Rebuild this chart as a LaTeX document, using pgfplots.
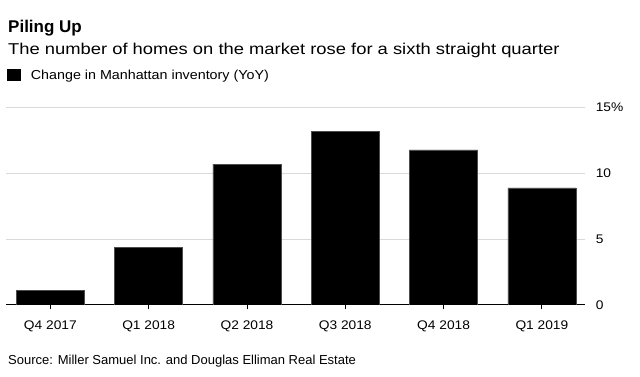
\documentclass[border=0pt]{standalone}
\usepackage{fontspec}
\setmainfont{Liberation Sans}
\newfontfamily\subfont{Liberation Sans}[FakeStretch=1.17]
\newfontfamily\tickfont{Liberation Sans}[FakeStretch=1.1]
\usepackage{pgfplots}
\pgfplotsset{compat=1.18}
\definecolor{gridgray}{HTML}{D9D9D9}
\begin{document}
\begin{tikzpicture}[x=1pt,y=1pt]
\path[use as bounding box] (0,0) rectangle (640,376);
\node[anchor=base west, inner sep=0pt, font=\bfseries\fontsize{17}{17}\selectfont] at (8,343.5) {Piling Up};
\node[anchor=base west, inner sep=0pt, font=\subfont\fontsize{15.7}{16}\selectfont] at (8,322) {The number of homes on the market rose for a sixth straight quarter};
\node[anchor=base west, inner sep=0pt, font=\fontsize{13}{13}\selectfont] at (8,12) {Source: Miller Samuel Inc. and Douglas Elliman Real Estate};
\begin{axis}[
  at={(51.24,54)}, anchor=origin,
  width=579pt, height=197.3pt, scale only axis,
  xmin=-0.45, xmax=5.44, ymin=0, ymax=15,
  axis line style={draw=none},
  xtick={0,1,2,3,4,5},
  xtick pos=bottom,
  xticklabels={Q4 2017,Q1 2018,Q2 2018,Q3 2018,Q4 2018,Q1 2019},
  xtick style={draw=black, line width=0.8pt},
  tick align=outside, major tick length=4.5pt,
  xticklabel style={font=\tickfont\fontsize{12.5}{13}\selectfont, inner sep=0pt, anchor=north, yshift=-11pt},
  ytick={5,10,15},
  yticklabels={5,10,15\%},
  extra y ticks={0},
  extra y tick labels={0},
  extra y tick style={grid style={draw=black, line width=1pt}},
  ytick style={draw=none},
  yticklabel pos=right,
  yticklabel style={font=\tickfont\fontsize{12.5}{13}\selectfont, anchor=west, inner sep=0pt, xshift=6pt},
  ymajorgrids,
  grid style={draw=gridgray, line width=1pt},
  legend style={at={(axis description cs:0.002,1.165)}, anchor=west, draw=none, fill=none, inner sep=0pt,
    column sep=8pt, font=\tickfont\fontsize{13}{13}\selectfont},
  legend image code/.code={\fill[black] (0pt,-5.5pt) rectangle (13pt,5.5pt);},
  legend cell align=left,
]
\addplot[ybar, bar width=68pt, fill=black, draw=black!70] coordinates {
  (0,1.1) (1,4.4) (2,10.7) (3,13.2) (4,11.8) (5,8.9)
};
\addlegendentry{Change in Manhattan inventory (YoY)}
\end{axis}
\end{tikzpicture}
\end{document}
